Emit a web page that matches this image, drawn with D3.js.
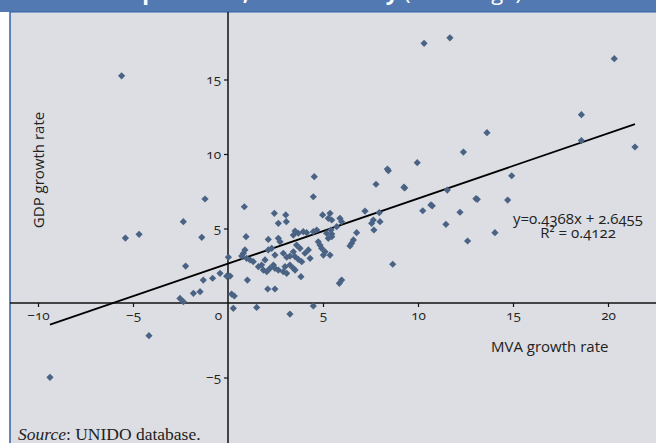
<!DOCTYPE html>
<html>
<head>
<meta charset="utf-8">
<script src="https://cdn.jsdelivr.net/npm/d3@7"></script>
<style>
  body { margin: 0; background: #ffffff; }
  svg { display: block; }
  .tick text { font-family: "Open Sans", "Noto Sans", sans-serif; font-size: 13.5px; fill: #222; font-variant-numeric: oldstyle-nums; }
</style>
</head>
<body>
<svg id="chart" width="656" height="443"></svg>
<script>
// MVA growth rate (x) and GDP growth rate (y), one entry per country
const mvaGrowth = [
  -5.6, 10.32, 11.68, 20.33, 18.6, 13.63, 12.39, 18.6, 21.42, 9.96,
  -5.4, -4.68, -2.35, -1.21, -1.38, -2.23, -1.3, -0.81, -0.42, -0.07, -1.82, -1.47, -2.53, -2.35, -4.16, -9.37,
  0.28, 1.51, 3.26, 4.49,
  4.54, 4.49, 0.86, 2.44, 3.04, 2.65, 3.07, 2.12, 0.95, 3.53,
  3.7, 3.96, 4.14, 3.44, 4.67, 5.19, 5.46, 5.28, 5.42, 2.65,
  2.74, 0.89, 0.81, 0.72, 0.98, 1.16, 1.33, 2.12, 2.3, 2.47,
  2.91, 3.09, 3.26, 3.61, 3.79, 3.44, 3.53, 3.7, 3.88, 4.05,
  4.23, 4.32, 4.75, 4.84, 4.93, 5.11, 5.02, 1.6, 1.77, 1.86,
  2.04, 2.21, 1.95, 2.39, 2.47, 2.65, 2.91, 3.09, 3.0, 3.26,
  3.44, 3.53, 3.84, 1.02, 2.09, 2.47, 0.11, 0.02, 0.19, 0.33,
  7.79, 9.26, 7.21, 7.96, 10.25, 10.68, 7.65, 7.56, 8.0, 7.68,
  6.77, 6.6, 6.51, 6.42, 5.37, 5.46, 5.89, 5.98, 5.72, 5.46,
  8.67, 5.98, 5.86, 5.37, 8.39, 8.44, 14.93, 11.54, 13.05, 13.12,
  14.72, 12.21, 11.47, 14.05, 12.61, 9.3, 10.75,
  4.98, 5.28, 4.49
];
const gdpGrowth = [
  15.25, 17.43, 17.8, 16.4, 12.64, 11.43, 10.13, 10.9, 10.47, 9.42,
  4.36, 4.61, 5.46, 6.98, 4.41, 2.48, 1.54, 1.66, 1.99, 1.8, 0.65, 0.76, 0.31, 0.09, -2.19, -4.99,
  -0.36, -0.3, -0.74, -0.2,
  8.48, 7.13, 6.46, 6.02, 5.91, 5.35, 5.46, 4.27, 4.45, 4.83,
  4.68, 4.79, 4.72, 4.56, 4.9, 4.68, 4.45, 4.34, 4.9, 4.34,
  4.11, 3.56, 3.34, 3.15, 3.0, 2.89, 2.77, 3.56, 3.67, 3.22,
  3.34, 3.07, 3.15, 3.89, 3.67, 3.44, 3.11, 2.93, 2.77, 3.34,
  3.56, 3.0, 4.11, 3.89, 3.67, 3.44, 3.22, 2.44, 2.55, 2.21,
  2.1, 2.33, 2.89, 2.55, 2.33, 2.21, 2.1, 1.99, 2.44, 2.55,
  2.33, 2.21, 1.77, 1.54, 0.94, 0.94, 1.81, 3.07, 0.6, 0.47,
  7.97, 7.77, 6.17, 6.06, 6.19, 6.58, 5.57, 5.35, 5.46, 4.9,
  4.72, 4.23, 4.01, 3.83, 6.02, 5.57, 5.68, 5.46, 5.12, 4.63,
  2.6, 1.54, 1.32, 3.22, 8.99, 8.88, 8.54, 7.58, 7.0, 6.96,
  6.91, 6.09, 5.28, 4.72, 4.16, 7.72, 6.52,
  5.91, 5.68, 4.79
];

const xTicks = [-10, -5, 0, 5, 10, 15, 20];
const yTicks = [-5, 5, 10, 15];

// trend line shown on the chart
const slope = 0.4368, intercept = 2.6455, rSquared = "0.4122";

const titleBold = "MVA and GDP output rates, each country";
const titleRest = " (% average)";

const width = 656, height = 443;
const panel = { left: 10, top: 12 };

const svg = d3.select("#chart");

// title bar (cut off at the top, only descenders show)
svg.append("rect")
    .attr("x", 0).attr("y", 0)
    .attr("width", width).attr("height", panel.top)
    .attr("fill", "#5279b1");

const titulo = svg.append("text")
    .attr("x", 522).attr("y", 0)
    .attr("text-anchor", "end")
    .style("font-family", "'Open Sans', sans-serif")
    .style("font-size", "22px")
    .attr("fill", "#ffffff");
titulo.append("tspan").style("font-weight", "bold").text(titleBold);
titulo.append("tspan").text(titleRest);

// panel
svg.append("rect")
    .attr("x", panel.left).attr("y", panel.top)
    .attr("width", width - panel.left).attr("height", height - panel.top)
    .attr("fill", "#dcdee3");
svg.append("line")
    .attr("x1", panel.left).attr("x2", width)
    .attr("y1", panel.top).attr("y2", panel.top)
    .attr("stroke", "#2f63aa").attr("stroke-width", 1.2);
svg.append("line")
    .attr("x1", panel.left).attr("x2", panel.left)
    .attr("y1", panel.top).attr("y2", height)
    .attr("stroke", "#2f63aa").attr("stroke-width", 1.5);

// scales
const x = d3.scaleLinear().domain([-10, 20]).range([38, 608]);
const y = d3.scaleLinear().domain([-5, 15]).range([377.5, 79.5]);

// axis lines cross at the origin and span the whole panel
svg.append("line")
    .attr("x1", panel.left).attr("x2", width)
    .attr("y1", y(0)).attr("y2", y(0))
    .attr("stroke", "#111").attr("stroke-width", 1.5);
svg.append("line")
    .attr("x1", x(0)).attr("x2", x(0))
    .attr("y1", panel.top).attr("y2", height)
    .attr("stroke", "#111").attr("stroke-width", 1.5);

const ejeX = svg.append("g")
    .attr("transform", `translate(0,${y(0)})`)
    .call(d3.axisBottom(x).tickValues(xTicks).tickSize(4).tickPadding(3).tickFormat(d3.format("d")));
ejeX.select(".domain").remove();
ejeX.selectAll(".tick line").attr("stroke", "#111").attr("stroke-width", 1.2);
ejeX.selectAll(".tick").filter(d => d === 0).select("line").remove();
ejeX.selectAll(".tick").filter(d => d === 0).select("text").attr("dx", -10);

const ejeY = svg.append("g")
    .attr("transform", `translate(${x(0)},0)`)
    .call(d3.axisLeft(y).tickValues(yTicks).tickSize(4).tickPadding(3).tickFormat(d3.format("d")));
ejeY.select(".domain").remove();
ejeY.selectAll(".tick line").attr("stroke", "#111").attr("stroke-width", 1.2);

// regression line over the data range
const [xMin, xMax] = d3.extent(mvaGrowth);
svg.append("line")
    .attr("x1", x(xMin)).attr("y1", y(slope * xMin + intercept))
    .attr("x2", x(xMax)).attr("y2", y(slope * xMax + intercept))
    .attr("stroke", "#000").attr("stroke-width", 1.8);

// points
const puntos = mvaGrowth.map((m, i) => ({ mva: m, gdp: gdpGrowth[i] }));
const diamante = d3.symbol().type(d3.symbolSquare).size(26);
svg.append("g")
    .selectAll("path")
    .data(puntos)
    .join("path")
    .attr("d", diamante)
    .attr("transform", d => `translate(${x(d.mva)},${y(d.gdp)}) rotate(45)`)
    .attr("fill", "#4a6384");

// axis titles
const etiqueta = "'Open Sans', 'Noto Sans', sans-serif";
svg.append("text")
    .attr("transform", `translate(44,170) rotate(-90)`)
    .attr("text-anchor", "middle")
    .style("font-family", etiqueta).style("font-size", "15px")
    .attr("fill", "#222")
    .text("GDP growth rate");

svg.append("text")
    .attr("x", 491).attr("y", 352)
    .style("font-family", etiqueta).style("font-size", "15px")
    .attr("fill", "#222")
    .text("MVA growth rate");

// equation, two lines
const ecuacion = [`y=${slope}x + ${intercept}`, `R² = ${rSquared}`];
svg.append("g")
    .selectAll("text")
    .data(ecuacion)
    .join("text")
    .attr("x", 578)
    .attr("y", (d, i) => 224 + i * 14)
    .attr("text-anchor", "middle")
    .style("font-family", etiqueta).style("font-size", "15px")
    .style("font-variant-numeric", "oldstyle-nums")
    .attr("fill", "#222")
    .text(d => d);

// source note
const fuente = svg.append("text")
    .attr("x", 18).attr("y", 440)
    .style("font-family", "'Liberation Serif', 'DejaVu Serif', serif")
    .style("font-size", "17.5px")
    .attr("fill", "#222");
fuente.append("tspan").style("font-style", "italic").text("Source");
fuente.append("tspan").text(": UNIDO database.");
</script>
</body>
</html>
